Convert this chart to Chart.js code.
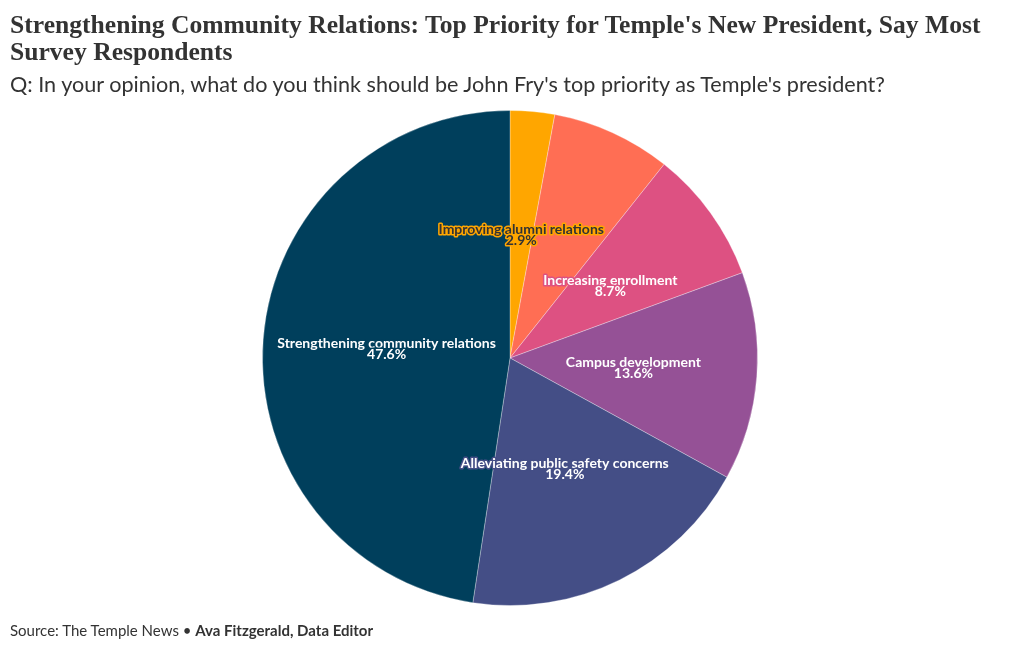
<!DOCTYPE html>
<html>
<head>
<meta charset="utf-8">
<script src="https://cdn.jsdelivr.net/npm/chart.js@4.4.0/dist/chart.umd.min.js"></script>
<style>
    body { margin: 0; background: #fff; width: 1020px; height: 650px; overflow: hidden; position: relative; }
    #title { position: absolute; left: 10px; top: 11px; font-family: "Liberation Serif", serif; font-weight: bold; font-size: 25.6px; line-height: 27px; color: #333; white-space: nowrap; }
    #subtitle { position: absolute; left: 10px; top: 71px; font-family: Lato, sans-serif; font-size: 21.6px; color: #333; white-space: nowrap; }
    #footer { position: absolute; left: 10px; top: 621px; font-family: Lato, sans-serif; font-size: 15px; color: #333; white-space: nowrap; }
    #chartBox { position: absolute; left: 0; top: 0; width: 1020px; height: 650px; }
</style>
</head>
<body>
<div id="chartBox"><canvas id="pieChart"></canvas></div>
<div id="title">Strengthening Community Relations: Top Priority for Temple's New President, Say Most<br>Survey Respondents</div>
<div id="subtitle">Q: In your opinion, what do you think should be John Fry's top priority as Temple's president?</div>
<div id="footer">Source: The Temple News &bull; <b>Ava Fitzgerald, Data Editor</b></div>
<script>
// Data
const categories = ['Improving alumni relations', 'Other', 'Increasing enrollment', 'Campus development', 'Alleviating public safety concerns', 'Strengthening community relations'];
const shares = [2.9, 7.8, 8.7, 13.6, 19.4, 47.6];
const showLabel = [true, false, true, true, true, true];
const sliceColors = ['#ffa600', '#ff6e54', '#dd5182', '#955196', '#444e86', '#003f5c'];
const labelColors = ['#333333', '#ffffff', '#ffffff', '#ffffff', '#ffffff', '#ffffff'];

// Slice labels with halo
const sliceLabels = {
    id: 'sliceLabels',
    afterDatasetsDraw(chart) {
        const ctx = chart.ctx;
        const meta = chart.getDatasetMeta(0);
        ctx.save();
        ctx.textAlign = 'center';
        ctx.textBaseline = 'middle';
        ctx.font = 'bold 14px Lato, sans-serif';
        ctx.lineJoin = 'round';
        meta.data.forEach((arc, i) => {
            if (!showLabel[i]) return;
            const pos = arc.tooltipPosition();
            const lines = [categories[i], shares[i].toFixed(1) + '%'];
            lines.forEach((txt, j) => {
                const y = pos.y - 5 + j * 11;
                ctx.lineWidth = 3;
                ctx.strokeStyle = sliceColors[i];
                ctx.strokeText(txt, pos.x, y);
                ctx.fillStyle = labelColors[i];
                ctx.fillText(txt, pos.x, y);
            });
        });
        ctx.restore();
    }
};

const chart = new Chart(document.getElementById('pieChart'), {
    type: 'pie',
    data: {
        labels: categories,
        datasets: [{
            data: shares,
            backgroundColor: sliceColors,
            borderColor: 'rgba(255,255,255,0.3)',
            borderWidth: 1,
            hoverOffset: 0
        }]
    },
    options: {
        responsive: true,
        maintainAspectRatio: false,
        animation: false,
        layout: { padding: { top: 110, bottom: 44 } },
        plugins: {
            legend: { display: false },
            tooltip: { enabled: false }
        }
    },
    plugins: [sliceLabels]
});
</script>
</body>
</html>
